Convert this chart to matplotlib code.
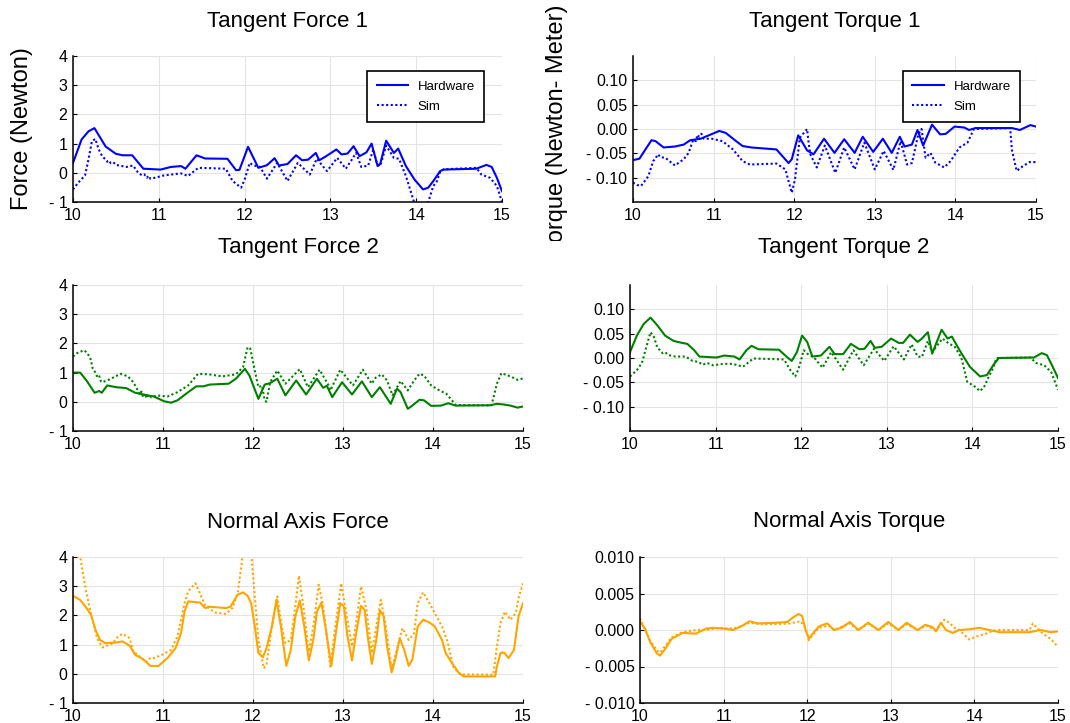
import numpy as np
import matplotlib
matplotlib.use("Agg")
import matplotlib.pyplot as plt
from matplotlib.transforms import Bbox, TransformedBbox

plt.rcParams['font.family'] = ['Liberation Sans', 'DejaVu Sans']

# ---------------------------------------------------------------- data
# (time [s], value) samples for each signal
tf1_hw = [(10.00, 0.34), (10.10, 1.14), (10.18, 1.42), (10.25, 1.53), (10.38, 0.90), (10.50, 0.65),
          (10.58, 0.60), (10.69, 0.60), (10.82, 0.14), (11.02, 0.11), (11.14, 0.20), (11.26, 0.23),
          (11.31, 0.14), (11.44, 0.60), (11.54, 0.49), (11.80, 0.48), (11.90, 0.09), (11.94, 0.10),
          (12.04, 0.89), (12.16, 0.17), (12.26, 0.26), (12.35, 0.50), (12.40, 0.25), (12.50, 0.30),
          (12.60, 0.60), (12.67, 0.43), (12.74, 0.45), (12.83, 0.68), (12.87, 0.43), (12.94, 0.55),
          (13.07, 0.80), (13.13, 0.63), (13.20, 0.66), (13.27, 0.91), (13.34, 0.57), (13.42, 0.70),
          (13.48, 1.00), (13.55, 0.23), (13.58, 0.30), (13.65, 1.10), (13.74, 0.68), (13.79, 0.83),
          (13.88, 0.23), (13.98, -0.23), (14.08, -0.57), (14.14, -0.51), (14.20, -0.28), (14.28, 0.06),
          (14.32, 0.11), (14.70, 0.14), (14.80, 0.25), (14.82, 0.27), (14.88, 0.20), (14.94, -0.17),
          (15.00, -0.63)]
tf1_sim = [(10.00, -0.57), (10.06, -0.34), (10.14, -0.09), (10.18, 0.45), (10.22, 1.08), (10.26, 1.16),
           (10.30, 0.80), (10.34, 0.57), (10.38, 0.45), (10.40, 0.38), (10.42, 0.42), (10.44, 0.33),
           (10.47, 0.36), (10.50, 0.27), (10.54, 0.25), (10.62, 0.20), (10.70, 0.25), (10.76, 0.00),
           (10.80, -0.08), (10.83, -0.05), (10.86, -0.17), (10.88, -0.10), (10.90, -0.20), (10.94, -0.18),
           (11.06, -0.09), (11.26, -0.02), (11.34, -0.11), (11.46, 0.17), (11.58, 0.16), (11.78, 0.14),
           (11.86, -0.28), (11.96, -0.51), (12.00, -0.23), (12.06, 0.34), (12.10, 0.26), (12.18, 0.20),
           (12.26, -0.20), (12.38, 0.34), (12.50, -0.28), (12.62, 0.34), (12.76, -0.06), (12.84, 0.48),
           (12.96, 0.06), (13.08, 0.51), (13.18, 0.14), (13.30, 0.68), (13.36, 0.20), (13.44, 0.25),
           (13.50, 0.80), (13.54, 0.34), (13.58, 0.23), (13.65, 0.93), (13.74, 0.51), (13.80, 0.48),
           (13.88, -0.11), (13.98, -1.05), (14.05, -1.60), (14.12, -1.50), (14.14, -1.00), (14.20, -0.45),
           (14.24, -0.30), (14.28, 0.05), (14.32, 0.12), (14.70, 0.17), (14.76, -0.06), (14.86, -0.17),
           (14.94, -0.45), (15.00, -1.00)]

tt1_hw = [(10.00, -0.064), (10.08, -0.061), (10.17, -0.038), (10.23, -0.023), (10.28, -0.025),
          (10.38, -0.038), (10.52, -0.036), (10.63, -0.032), (10.71, -0.023), (10.84, -0.020),
          (10.94, -0.013), (11.07, -0.004), (11.15, -0.008), (11.28, -0.025), (11.36, -0.035),
          (11.47, -0.038), (11.78, -0.042), (11.93, -0.070), (11.97, -0.062), (12.05, -0.013),
          (12.16, -0.044), (12.24, -0.052), (12.37, -0.020), (12.50, -0.049), (12.62, -0.021),
          (12.75, -0.049), (12.85, -0.016), (12.98, -0.047), (13.10, -0.020), (13.21, -0.049),
          (13.31, -0.016), (13.37, -0.036), (13.46, -0.032), (13.53, -0.002), (13.60, -0.034),
          (13.71, 0.009), (13.81, -0.011), (13.88, -0.010), (13.99, 0.005), (14.11, 0.003),
          (14.17, -0.002), (14.25, 0.002), (14.70, 0.002), (14.80, -0.002), (14.93, 0.008), (15.00, 0.005)]
tt1_sim = [(10.00, -0.110), (10.05, -0.115), (10.10, -0.117), (10.19, -0.097), (10.25, -0.066),
           (10.28, -0.060), (10.31, -0.052), (10.34, -0.058), (10.40, -0.059), (10.52, -0.075),
           (10.63, -0.062), (10.69, -0.049), (10.75, -0.021), (10.78, -0.025), (10.80, -0.012),
           (10.82, -0.016), (10.85, -0.010), (10.88, -0.020), (10.98, -0.020), (11.11, -0.025),
           (11.24, -0.042), (11.36, -0.066), (11.45, -0.073), (11.78, -0.071), (11.89, -0.083),
           (11.97, -0.131), (12.01, -0.103), (12.07, -0.018), (12.12, -0.008), (12.16, 0.000),
           (12.18, -0.030), (12.20, -0.052), (12.28, -0.079), (12.38, -0.034), (12.51, -0.090),
           (12.62, -0.038), (12.75, -0.083), (12.87, -0.028), (13.00, -0.083), (13.11, -0.045),
           (13.23, -0.084), (13.32, -0.025), (13.40, -0.073), (13.46, -0.070), (13.54, -0.011),
           (13.58, 0.000), (13.63, -0.059), (13.69, -0.049), (13.75, -0.069), (13.86, -0.079),
           (13.94, -0.066), (14.05, -0.038), (14.15, -0.028), (14.19, -0.014), (14.23, 0.000),
           (14.68, 0.002), (14.70, -0.042), (14.76, -0.086), (14.84, -0.076), (14.92, -0.068), (15.00, -0.068)]

tf2_hw = [(10.00, 1.00), (10.08, 1.00), (10.15, 0.73), (10.24, 0.31), (10.29, 0.37), (10.32, 0.31),
          (10.38, 0.56), (10.48, 0.50), (10.59, 0.47), (10.69, 0.31), (10.78, 0.25), (10.90, 0.18),
          (11.01, 0.02), (11.09, -0.03), (11.16, 0.05), (11.28, 0.33), (11.37, 0.53), (11.45, 0.53),
          (11.52, 0.59), (11.73, 0.62), (11.81, 0.79), (11.91, 1.13), (11.96, 0.90), (12.06, 0.10),
          (12.13, 0.59), (12.19, 0.64), (12.27, 0.79), (12.36, 0.22), (12.48, 0.73), (12.59, 0.25),
          (12.71, 0.79), (12.78, 0.48), (12.82, 0.55), (12.88, 0.16), (12.99, 0.67), (13.10, 0.25),
          (13.21, 0.70), (13.32, 0.16), (13.41, 0.50), (13.53, -0.07), (13.60, 0.45), (13.64, 0.33),
          (13.72, -0.24), (13.77, -0.13), (13.85, 0.07), (13.90, 0.05), (13.98, -0.14), (14.09, -0.13),
          (14.17, -0.05), (14.25, -0.13), (14.63, -0.12), (14.71, -0.07), (14.78, -0.09), (14.86, -0.13),
          (14.94, -0.20), (15.00, -0.16)]
tf2_sim = [(10.00, 1.55), (10.06, 1.70), (10.13, 1.76), (10.19, 1.53), (10.22, 1.13), (10.25, 1.00),
           (10.27, 0.85), (10.29, 0.90), (10.31, 0.70), (10.32, 0.67), (10.38, 0.73), (10.44, 0.82),
           (10.53, 0.96), (10.61, 0.87), (10.67, 0.67), (10.71, 0.45), (10.74, 0.25), (10.76, 0.35),
           (10.78, 0.15), (10.80, 0.28), (10.82, 0.12), (10.84, 0.25), (10.87, 0.15), (10.93, 0.22),
           (11.05, 0.18), (11.16, 0.33), (11.28, 0.56), (11.39, 0.96), (11.51, 0.94), (11.66, 0.87),
           (11.81, 0.94), (11.89, 1.19), (11.94, 1.87), (11.97, 1.82), (12.02, 1.07), (12.06, 0.50),
           (12.10, 0.55), (12.13, 0.05), (12.15, 0.00), (12.19, 0.67), (12.27, 1.07), (12.36, 0.62),
           (12.52, 1.12), (12.61, 0.50), (12.74, 1.10), (12.84, 0.56), (12.86, 0.39), (12.97, 1.10),
           (13.11, 0.56), (13.22, 1.10), (13.32, 0.62), (13.36, 0.82), (13.43, 0.94), (13.49, 0.73),
           (13.55, 0.22), (13.64, 0.71), (13.72, 0.39), (13.79, 0.73), (13.85, 0.96), (13.90, 0.90),
           (13.98, 0.56), (14.06, 0.41), (14.15, 0.27), (14.21, 0.05), (14.25, -0.11), (14.65, -0.12),
           (14.71, 0.62), (14.76, 0.98), (14.86, 0.87), (14.94, 0.75), (15.00, 0.80)]

tt2_hw = [(10.00, 0.012), (10.08, 0.046), (10.16, 0.070), (10.24, 0.083), (10.32, 0.067), (10.41, 0.046),
          (10.51, 0.035), (10.61, 0.031), (10.67, 0.029), (10.75, 0.016), (10.81, 0.003), (11.01, 0.001),
          (11.10, 0.005), (11.22, 0.003), (11.28, -0.003), (11.36, 0.016), (11.42, 0.025), (11.50, 0.018),
          (11.74, 0.017), (11.84, 0.001), (11.89, -0.006), (11.95, 0.012), (12.01, 0.046), (12.07, 0.033),
          (12.13, 0.003), (12.23, 0.005), (12.33, 0.023), (12.39, 0.008), (12.49, 0.008), (12.58, 0.029),
          (12.68, 0.018), (12.74, 0.019), (12.81, 0.035), (12.86, 0.021), (12.94, 0.023), (13.05, 0.040),
          (13.14, 0.031), (13.19, 0.031), (13.27, 0.048), (13.36, 0.033), (13.41, 0.040), (13.48, 0.053),
          (13.53, 0.009), (13.64, 0.058), (13.71, 0.040), (13.76, 0.044), (13.85, 0.016), (13.97, -0.018),
          (14.09, -0.038), (14.17, -0.035), (14.25, -0.013), (14.31, 0.000), (14.72, 0.001), (14.81, 0.010),
          (14.87, 0.006), (14.93, -0.015), (15.00, -0.041)]
tt2_sim = [(10.00, -0.038), (10.08, -0.025), (10.14, -0.010), (10.18, 0.016), (10.24, 0.053), (10.28, 0.043),
           (10.32, 0.021), (10.35, 0.016), (10.38, 0.010), (10.41, 0.012), (10.45, 0.006), (10.53, 0.003),
           (10.65, 0.003), (10.73, -0.006), (10.80, -0.008), (10.85, -0.014), (10.90, -0.010), (10.97, -0.015),
           (11.09, -0.012), (11.20, -0.012), (11.32, -0.018), (11.44, -0.001), (11.80, -0.003), (11.87, -0.024),
           (11.93, -0.038), (11.97, -0.022), (12.03, 0.016), (12.07, 0.009), (12.15, 0.001), (12.25, -0.020),
           (12.35, 0.012), (12.49, -0.024), (12.61, 0.016), (12.73, -0.015), (12.85, 0.019), (12.97, -0.006),
           (13.08, 0.024), (13.20, -0.003), (13.29, 0.028), (13.36, 0.003), (13.41, 0.002), (13.48, 0.035),
           (13.53, 0.012), (13.65, 0.040), (13.73, 0.029), (13.79, 0.024), (13.87, 0.001), (13.94, -0.049),
           (14.03, -0.059), (14.09, -0.068), (14.15, -0.056), (14.17, -0.046), (14.25, -0.018), (14.28, 0.000),
           (14.68, 0.001), (14.74, -0.010), (14.84, -0.015), (14.92, -0.029), (15.00, -0.065)]

nf_hw = [(10.00, 2.67), (10.08, 2.53), (10.15, 2.25), (10.20, 2.02), (10.25, 1.51), (10.30, 1.16),
         (10.36, 1.05), (10.48, 1.07), (10.55, 1.11), (10.63, 0.96), (10.69, 0.65), (10.78, 0.50),
         (10.86, 0.27), (10.95, 0.27), (11.05, 0.54), (11.14, 0.88), (11.20, 1.39), (11.24, 2.13),
         (11.28, 2.48), (11.41, 2.44), (11.47, 2.25), (11.51, 2.30), (11.70, 2.25), (11.75, 2.30),
         (11.83, 2.71), (11.89, 2.79), (11.94, 2.67), (11.98, 2.42), (12.02, 1.62), (12.06, 0.71),
         (12.11, 0.57), (12.15, 0.88), (12.21, 1.62), (12.26, 2.53), (12.31, 1.62), (12.37, 0.27),
         (12.42, 0.82), (12.47, 1.96), (12.52, 2.51), (12.57, 1.62), (12.62, 0.46), (12.67, 1.16),
         (12.71, 2.13), (12.76, 2.44), (12.81, 1.51), (12.87, 0.27), (12.92, 1.39), (12.97, 2.42),
         (13.01, 2.30), (13.05, 1.28), (13.10, 0.46), (13.14, 1.28), (13.20, 2.33), (13.24, 2.19),
         (13.28, 1.16), (13.32, 0.34), (13.37, 1.16), (13.41, 2.17), (13.45, 1.99), (13.49, 0.94),
         (13.54, 0.05), (13.58, 0.48), (13.63, 1.22), (13.68, 0.82), (13.73, 0.27), (13.77, 0.48),
         (13.83, 1.62), (13.89, 1.85), (13.96, 1.76), (14.02, 1.62), (14.10, 1.16), (14.14, 0.71),
         (14.21, 0.37), (14.29, 0.02), (14.34, -0.09), (14.69, -0.09), (14.71, 0.25), (14.75, 0.71),
         (14.79, 0.73), (14.84, 0.54), (14.90, 0.82), (14.95, 1.96), (15.00, 2.42)]
nf_sim = [(10.00, 4.10), (10.08, 4.00), (10.11, 3.45), (10.15, 2.76), (10.19, 2.19), (10.24, 1.56),
          (10.27, 1.20), (10.30, 1.05), (10.33, 0.90), (10.36, 0.94), (10.40, 1.00), (10.44, 1.03),
          (10.50, 1.28), (10.55, 1.37), (10.63, 1.22), (10.67, 0.76), (10.72, 0.65), (10.78, 0.48),
          (10.82, 0.40), (10.86, 0.55), (10.90, 0.54), (10.99, 0.65), (11.09, 0.82), (11.16, 1.28),
          (11.24, 2.42), (11.28, 2.82), (11.36, 3.10), (11.41, 2.76), (11.47, 2.33), (11.58, 2.10),
          (11.70, 2.05), (11.77, 2.25), (11.83, 2.76), (11.87, 3.68), (11.90, 4.50), (11.97, 4.50),
          (12.02, 2.65), (12.06, 1.16), (12.12, 0.19), (12.15, 0.31), (12.21, 1.62), (12.27, 2.65),
          (12.32, 1.62), (12.36, 1.05), (12.42, 1.16), (12.47, 2.31), (12.51, 3.36), (12.56, 2.31),
          (12.62, 0.76), (12.67, 1.62), (12.73, 3.05), (12.78, 2.31), (12.86, 0.25), (12.90, 1.28),
          (12.98, 3.10), (13.03, 2.19), (13.10, 0.94), (13.14, 1.62), (13.20, 2.99), (13.26, 2.19),
          (13.32, 0.71), (13.37, 1.62), (13.42, 2.53), (13.47, 1.74), (13.54, 0.19), (13.59, 0.71),
          (13.66, 1.56), (13.73, 1.16), (13.79, 1.39), (13.83, 2.42), (13.89, 2.79), (13.96, 2.42),
          (14.03, 2.02), (14.10, 1.62), (14.16, 1.11), (14.23, 0.19), (14.31, -0.02), (14.67, -0.03),
          (14.71, 0.94), (14.75, 1.74), (14.80, 2.13), (14.86, 1.85), (14.92, 2.08), (14.95, 2.59),
          (15.00, 3.10)]

nt_hw = [(10.00, 0.0012), (10.06, 0.0002), (10.12, -0.0016), (10.20, -0.0032), (10.24, -0.0035),
         (10.30, -0.0026), (10.38, -0.0012), (10.51, -0.0004), (10.67, -0.0005), (10.79, 0.0002),
         (10.87, 0.0003), (10.99, 0.0002), (11.11, 0.0000), (11.21, 0.0005), (11.31, 0.0012),
         (11.41, 0.0009), (11.64, 0.0010), (11.76, 0.0011), (11.84, 0.0018), (11.90, 0.0022),
         (11.94, 0.0019), (11.98, 0.0000), (12.02, -0.0012), (12.08, -0.0003), (12.14, 0.0005),
         (12.24, 0.0009), (12.32, 0.0000), (12.41, 0.0003), (12.51, 0.0011), (12.61, 0.0000),
         (12.73, 0.0010), (12.85, 0.0000), (12.97, 0.0011), (13.09, 0.0000), (13.19, 0.0010),
         (13.32, 0.0000), (13.41, 0.0007), (13.50, 0.0004), (13.54, -0.0002), (13.60, 0.0010),
         (13.66, 0.0000), (13.74, -0.0004), (13.82, 0.0000), (13.94, 0.0001), (14.06, 0.0003),
         (14.18, 0.0000), (14.30, -0.0003), (14.66, -0.0003), (14.79, 0.0000), (14.91, -0.0003),
         (15.00, -0.0002)]
nt_sim = [(10.00, 0.0016), (10.06, 0.0000), (10.12, -0.0014), (10.20, -0.0028), (10.24, -0.0031),
          (10.30, -0.0022), (10.38, -0.0010), (10.51, -0.0003), (10.67, 0.0000), (10.79, 0.0000),
          (10.95, 0.0003), (11.11, 0.0002), (11.21, 0.0005), (11.31, 0.0010), (11.43, 0.0008),
          (11.64, 0.0008), (11.80, 0.0009), (11.92, 0.0012), (11.98, 0.0003), (12.02, -0.0014),
          (12.08, -0.0005), (12.14, 0.0003), (12.26, 0.0006), (12.32, 0.0000), (12.51, 0.0009),
          (12.61, 0.0000), (12.73, 0.0009), (12.85, 0.0000), (12.97, 0.0009), (13.09, 0.0000),
          (13.19, 0.0008), (13.32, 0.0000), (13.42, 0.0006), (13.54, 0.0000), (13.64, 0.0014),
          (13.70, 0.0010), (13.76, 0.0003), (13.82, 0.0000), (13.94, -0.0013), (14.02, -0.0009),
          (14.14, -0.0005), (14.22, -0.0001), (14.30, 0.0000), (14.66, 0.0000), (14.70, 0.0009),
          (14.74, 0.0004), (14.82, -0.0005), (14.91, -0.0012), (15.00, -0.0023)]

x_ticks = [10, 11, 12, 13, 14, 15]
force_ticks = [-1, 0, 1, 2, 3, 4]
force_labels = ["- 1", "0", "1", "2", "3", "4"]
torque_ticks = [-0.10, -0.05, 0.00, 0.05, 0.10]
torque_labels = ["- 0.10", "- 0.05", "0.00", "0.05", "0.10"]
ntorque_ticks = [-0.010, -0.005, 0.000, 0.005, 0.010]
ntorque_labels = ["- 0.010", "- 0.005", "0.000", "0.005", "0.010"]

# ---------------------------------------------------------------- layout
W, H = 1070, 723
fig = plt.figure(figsize=(W / 100, H / 100), dpi=100)


def px_axes(left, top, right, bottom):
    return fig.add_axes([left / W, 1 - bottom / H, (right - left) / W, (bottom - top) / H])


panels = [
    dict(box=(73, 56, 502, 202), title="Tangent Force 1", hw=tf1_hw, sim=tf1_sim, color="#0000ff",
         ylim=(-1, 4), ticks=force_ticks, labels=force_labels, legend=(0.958, 0.897)),
    dict(box=(633, 56, 1036, 202), title="Tangent Torque 1", hw=tt1_hw, sim=tt1_sim, color="#0000ff",
         ylim=(-0.15, 0.15), ticks=torque_ticks, labels=torque_labels, legend=(0.96, 0.897)),
    dict(box=(73, 285, 523, 431), title="Tangent Force 2", hw=tf2_hw, sim=tf2_sim, color="#008000",
         ylim=(-1, 4), ticks=force_ticks, labels=force_labels, legend=None),
    dict(box=(630, 285, 1058, 431), title="Tangent Torque 2", hw=tt2_hw, sim=tt2_sim, color="#008000",
         ylim=(-0.15, 0.15), ticks=torque_ticks, labels=torque_labels, legend=None),
    dict(box=(73, 557, 523, 703), title="Normal Axis Force", hw=nf_hw, sim=nf_sim, color="#ffa500",
         ylim=(-1, 4), ticks=force_ticks, labels=force_labels, legend=None),
    dict(box=(640, 557, 1058, 703), title="Normal Axis Torque", hw=nt_hw, sim=nt_sim, color="#ffa500",
         ylim=(-0.010, 0.010), ticks=ntorque_ticks, labels=ntorque_labels, legend=None),
]
title_y = [22, 22, 248, 248, 522, 522]

for p, ty in zip(panels, title_y):
    l, t, r, b = p["box"]
    ax = px_axes(l, t, r, b)
    hw = np.array(p["hw"]).T
    sim = np.array(p["sim"]).T
    ax.plot(hw[0], hw[1], color=p["color"], lw=1.5, label="Hardware")
    ax.plot(sim[0], sim[1], color=p["color"], lw=1.5, ls=(0, (1.0, 1.2)), label="Sim")
    ax.set_xlim(10, 15)
    ax.set_ylim(*p["ylim"])
    ax.set_xticks(x_ticks)
    ax.set_xticklabels([str(v) for v in x_ticks])
    ax.set_yticks(p["ticks"])
    ax.set_yticklabels(p["labels"])
    ax.grid(True, color="#e4e4e4", lw=0.8)
    ax.set_axisbelow(True)
    for s in ("top", "right"):
        ax.spines[s].set_visible(False)
    for s in ("left", "bottom"):
        ax.spines[s].set_linewidth(1.1)
    ax.tick_params(direction="in", length=3, width=0.8, labelsize=11.5, pad=4, colors="black")
    fig.text((l + r) / 2 / W, 1 - ty / H, p["title"], ha="center", va="center", fontsize=16)
    if p["legend"] is not None:
        leg = ax.legend(loc="upper right", bbox_to_anchor=p["legend"], borderaxespad=0,
                        fancybox=False, edgecolor="black", framealpha=1, fontsize=9.5,
                        handlelength=2.4, handletextpad=0.7, borderpad=0.7, labelspacing=0.6)
        leg.get_frame().set_linewidth(1.2)

# axis guides
fig.text(22 / W, 1 - 129 / H, "Force (Newton)", rotation=90, ha="center", va="center", fontsize=17)
tq = fig.text(557 / W, 1 - 129 / H, "Torque (Newton- Meter)", rotation=90, ha="center", va="center",
              fontsize=17)
tq.set_clip_box(TransformedBbox(Bbox([[530 / W, 1 - 241 / H], [600 / W, 1.0]]), fig.transFigure))
tq.set_clip_on(True)

fig.savefig("out.png", dpi=100)
